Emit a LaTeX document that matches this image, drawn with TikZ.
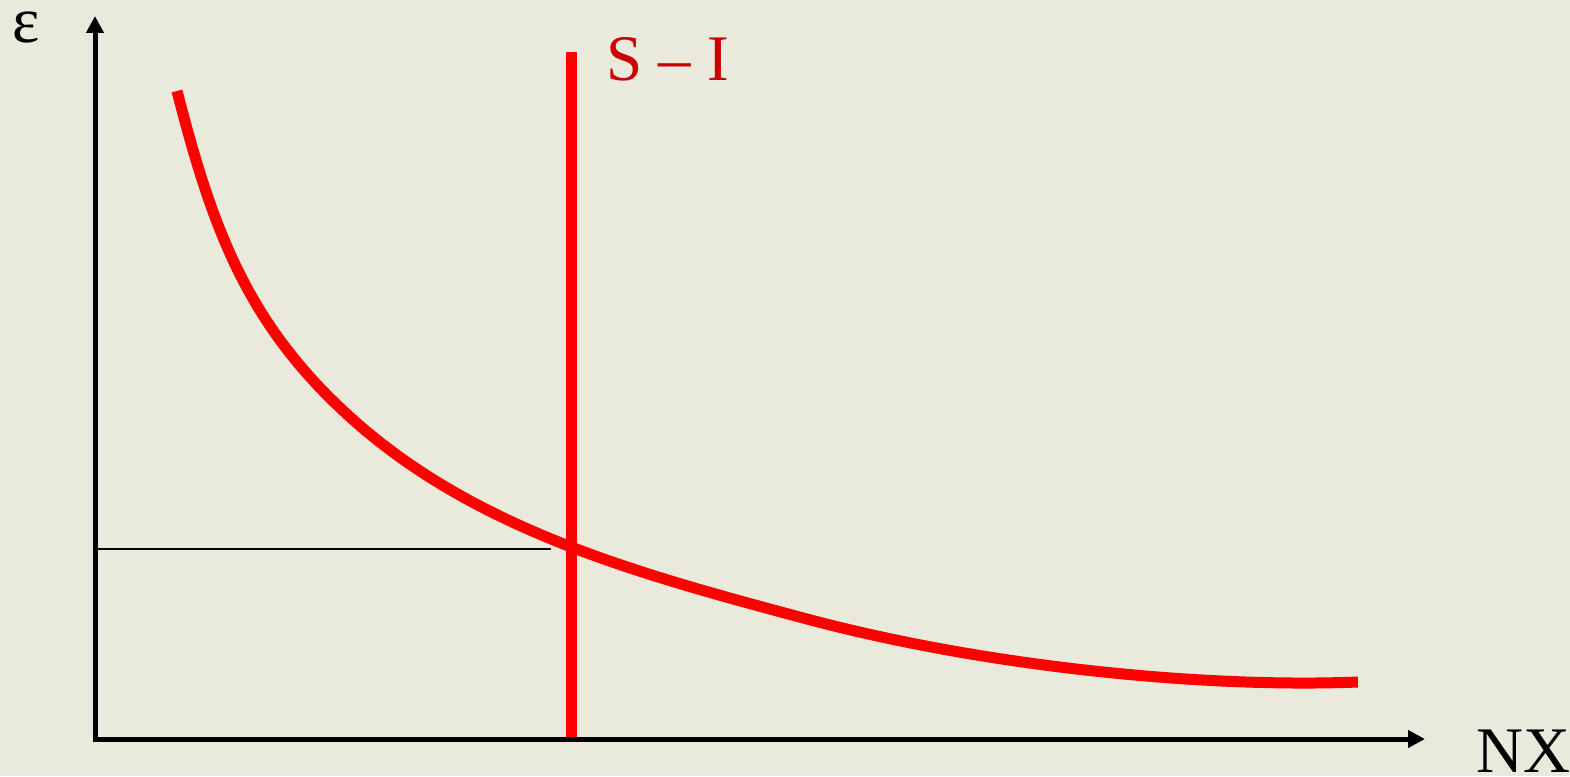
\documentclass[tikz,border=0pt]{standalone}
\usepackage{fontspec}
\setmainfont{Liberation Serif}
\usetikzlibrary{arrows.meta}
\definecolor{paper}{RGB}{234,234,220}
\definecolor{labelred}{RGB}{204,0,0}
\tikzset{
  axis/.style={line width=5pt, -{Triangle[length=17pt,width=17pt]}},
  curve/.style={line width=11pt, red},
  biglabel/.style={inner sep=0pt, font=\fontsize{65}{65}\selectfont}
}
\begin{document}
\begin{tikzpicture}[x=1pt, y=-1pt]
      \fill[paper] (0,0) rectangle (1570,776);
      \useasboundingbox (0,0) rectangle (1570,776);
      \coordinate (O) at (95,739);
      \coordinate (ytop) at (95,16);
      \coordinate (xend) at (1425,739);
      \coordinate (lvlL) at (98,549);
      \coordinate (lvlR) at (551,549);
      \coordinate (siTop) at (571,52);
      \coordinate (siBot) at (571,739);
      \coordinate (cStart) at (177,91);
      \coordinate (cKnee) at (350,417);
      \coordinate (cMid) at (807,619);
      \coordinate (cEnd) at (1358,682);
      \draw[line width=1.5pt] (lvlL) -- (lvlR);
      \draw[curve] (siTop) -- (siBot);
      \draw[curve] (cStart) .. controls (212,227) and (246,323) .. (cKnee)
                           .. controls (476,531) and (643,575) .. (cMid)
                           .. controls (991,668) and (1208,688) .. (cEnd);
      \draw[axis] ([yshift=2.5pt]O) -- (ytop);
      \draw[axis] ([xshift=-2.5pt]O) -- (xend);
      \node[biglabel, anchor=base west] (eps) at (12,42) {ε};
      \node[biglabel, anchor=base west, labelred] (si) at (606,81) {S – I};
      \node[biglabel, anchor=base west] (nx) at (1476,772) {NX};
    \end{tikzpicture}
\end{document}
